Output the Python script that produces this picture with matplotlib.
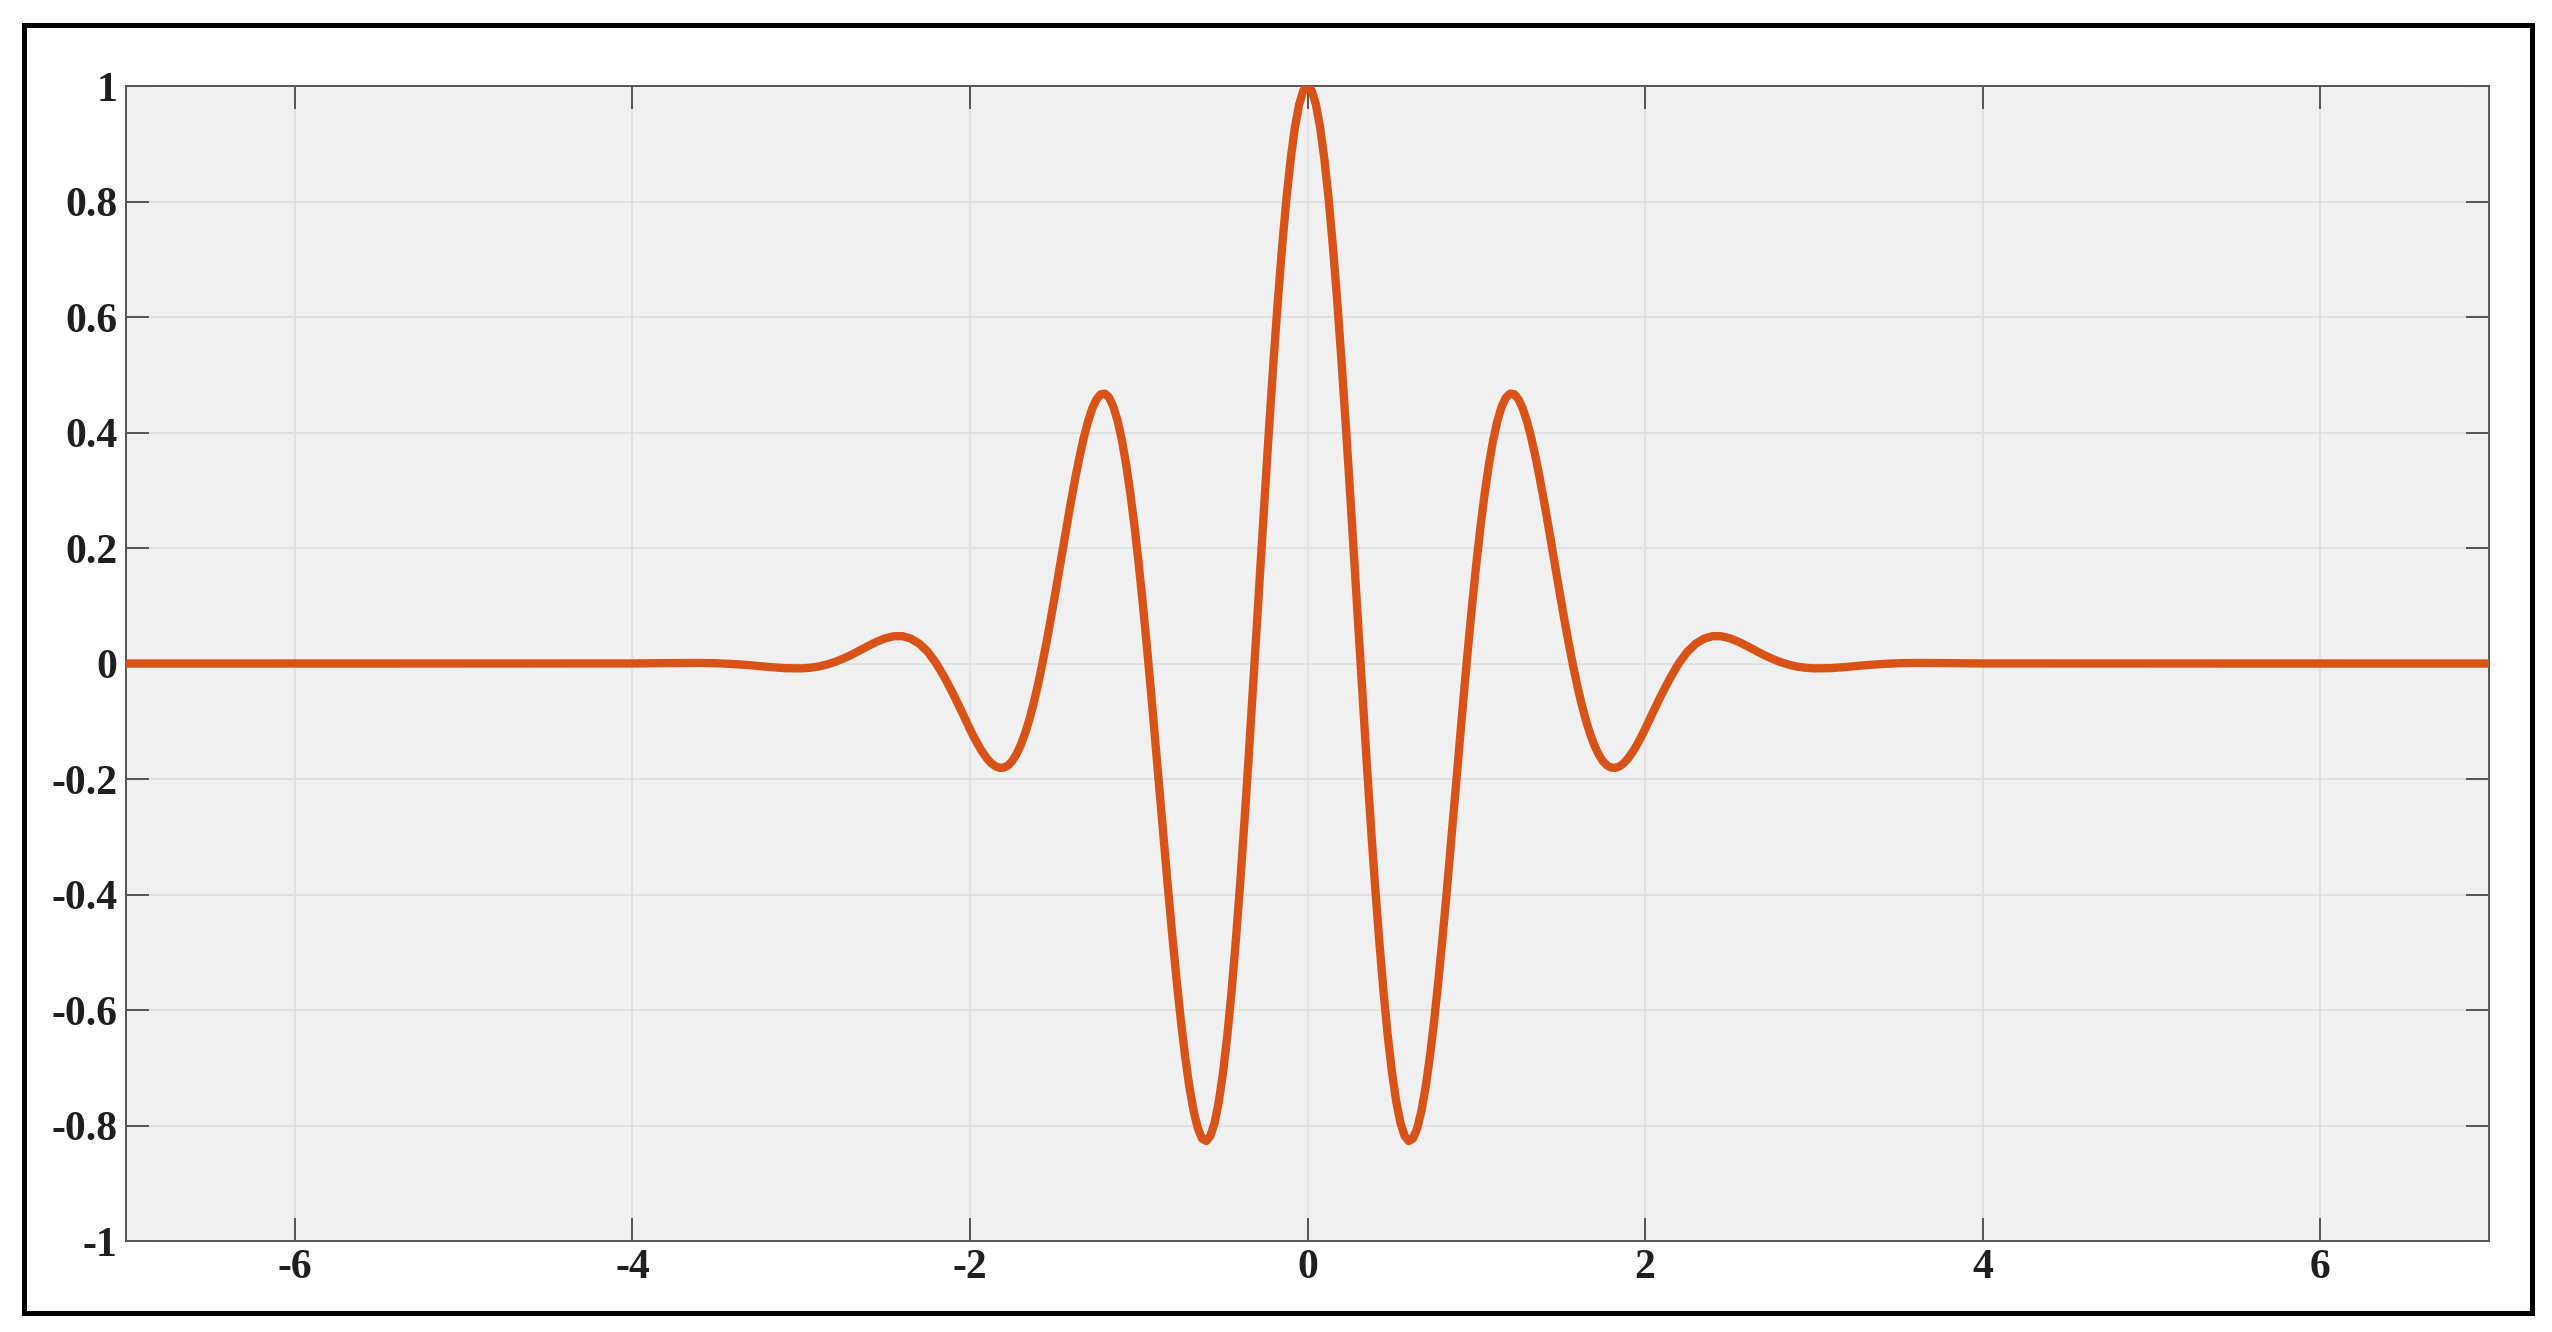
import numpy as np
import matplotlib
matplotlib.use("Agg")
import matplotlib.pyplot as plt
from matplotlib.patches import Rectangle

# values (right half, x >= 0); the curve is symmetric about x = 0
x_half = [0.000, 0.025, 0.050, 0.075, 0.100, 0.125, 0.150, 0.175, 0.200, 0.225,
          0.250, 0.275, 0.300, 0.325, 0.350, 0.375, 0.400, 0.425, 0.450, 0.475,
          0.500, 0.525, 0.550, 0.575, 0.600, 0.625, 0.650, 0.675, 0.700, 0.725,
          0.750, 0.775, 0.800, 0.825, 0.850, 0.875, 0.900, 0.925, 0.950, 0.975,
          1.000, 1.025, 1.050, 1.075, 1.100, 1.125, 1.150, 1.175, 1.200, 1.225,
          1.250, 1.275, 1.300, 1.325, 1.350, 1.375, 1.400, 1.425, 1.450, 1.475,
          1.500, 1.525, 1.550, 1.575, 1.600, 1.625, 1.650, 1.675, 1.700, 1.725,
          1.750, 1.775, 1.800, 1.825, 1.850, 1.875, 1.900, 1.925, 1.950, 1.975,
          2.00, 2.05, 2.10, 2.15, 2.20, 2.25, 2.30, 2.35, 2.40, 2.45,
          2.50, 2.55, 2.60, 2.65, 2.70, 2.75, 2.80, 2.85, 2.90, 2.95,
          3.00, 3.10, 3.20, 3.30, 3.40, 3.50, 3.60, 3.80, 4.00, 7.00]
y_half = [1.0000, 0.9919, 0.9677, 0.9279, 0.8732, 0.8047, 0.7235, 0.6313, 0.5296, 0.4204,
          0.3056, 0.1873, 0.0676, -0.0514, -0.1677, -0.2792, -0.3842, -0.4803, -0.5677, -0.6439,
          -0.7070, -0.7576, -0.7946, -0.8177, -0.8269, -0.8225, -0.8048, -0.7747, -0.7330, -0.6808,
          -0.6194, -0.5502, -0.4746, -0.3952, -0.3108, -0.2263, -0.1406, -0.0569, 0.0239, 0.1008,
          0.1721, 0.2375, 0.2951, 0.3451, 0.3870, 0.4202, 0.4446, 0.4602, 0.4674, 0.4663,
          0.4576, 0.4418, 0.4195, 0.3917, 0.3590, 0.3225, 0.2830, 0.2414, 0.1985, 0.1554,
          0.1125, 0.0710, 0.0313, -0.0061, -0.0405, -0.0715, -0.0989, -0.1224, -0.1419, -0.1575,
          -0.1690, -0.1765, -0.1803, -0.1807, -0.1778, -0.1722, -0.1640, -0.1536, -0.1417, -0.1281,
          -0.1136, -0.0825, -0.0524, -0.0245, 0.0004, 0.0203, 0.0343, 0.0432, 0.0474, 0.0473,
          0.0438, 0.0381, 0.0309, 0.0232, 0.0154, 0.0086, 0.0027, -0.0019, -0.0053, -0.0074,
          -0.0084, -0.0080, -0.0057, -0.0030, -0.0009, 0.0005, 0.0010, 0.0007, 0.0001, 0.0000]

x_ticks = [-6, -4, -2, 0, 2, 4, 6]
x_labels = ["-6", "-4", "-2", "0", "2", "4", "6"]
y_ticks = [-1, -0.8, -0.6, -0.4, -0.2, 0, 0.2, 0.4, 0.6, 0.8, 1]
y_labels = ["-1", "-0.8", "-0.6", "-0.4", "-0.2", "0", "0.2", "0.4", "0.6", "0.8", "1"]

x = np.concatenate([-np.array(x_half[:0:-1]), np.array(x_half)])
y = np.concatenate([np.array(y_half[:0:-1]), np.array(y_half)])

fig = plt.figure(figsize=(12.76, 6.66), dpi=200)
ax = fig.add_axes([0.0494, 0.0683, 0.9259, 0.8671])

ax.plot(x, y, color="#D95319", linewidth=3.0, solid_joinstyle="round",
        solid_capstyle="round", zorder=3)

ax.set_xlim(-7, 7)
ax.set_ylim(-1, 1)
ax.set_facecolor("#f0f0f0")
ax.grid(True, color="#dfdfdf", linewidth=0.6)
ax.set_axisbelow(True)

for sp in ax.spines.values():
    sp.set_color("#555555")
    sp.set_linewidth(0.7)

ax.set_xticks(x_ticks)
ax.set_xticklabels(x_labels)
ax.set_yticks(y_ticks)
ax.set_yticklabels(y_labels)
ax.tick_params(direction="in", length=8.3, width=0.7, color="#555555",
               top=True, right=True, labelsize=15, labelcolor="#1f1f1f", pad=3)
for lab in ax.get_xticklabels() + ax.get_yticklabels():
    lab.set_fontfamily(["Liberation Serif", "DejaVu Serif"])
    lab.set_fontweight("bold")

# black frame around the whole picture
fig.patches.append(Rectangle((24 / 2552, 1 - 1313 / 1332), (2532 - 24) / 2552, (1313 - 25) / 1332,
                             transform=fig.transFigure, fill=False, edgecolor="black",
                             linewidth=1.8))

fig.savefig("out.png", dpi=200)
